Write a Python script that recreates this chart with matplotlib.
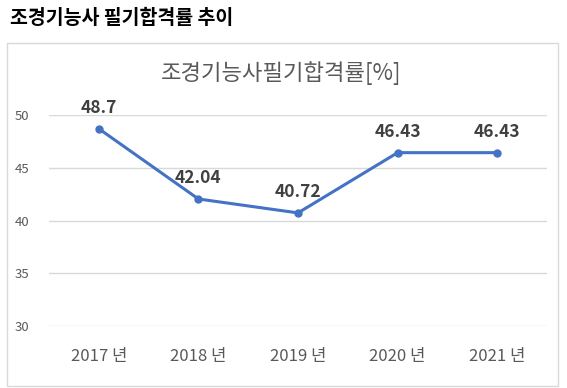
import matplotlib.pyplot as plt
from matplotlib.patches import Rectangle

plt.rcParams['font.family'] = ['Noto Sans CJK KR', 'DejaVu Sans']

# data
years = ['2017 년', '2018 년', '2019 년', '2020 년', '2021 년']
rates = [48.7, 42.04, 40.72, 46.43, 46.43]
y_ticks = [30, 35, 40, 45, 50]

fig = plt.figure(figsize=(5.67, 3.88), dpi=100)

# page header above the chart box
fig.text(10 / 567, 1 - 18 / 388, '조경기능사 필기합격률 추이', fontsize=14,
         fontweight='bold', color='black', va='center', ha='left')

# outer chart border
fig.patches.append(Rectangle((7 / 567, 2 / 388), 551 / 567, 343 / 388,
                             transform=fig.transFigure, fill=False,
                             edgecolor='#D9D9D9', linewidth=1))

ax = fig.add_axes([49 / 567, 62 / 388, 498 / 567, 211 / 388])
x = list(range(len(years)))
ax.plot(x, rates, color='#4472C4', linewidth=2.2, marker='o', markersize=5)

for xi, v in zip(x, rates):
    ax.annotate(f'{v:g}', (xi, v), xytext=(0, 15), textcoords='offset points',
                ha='center', va='center', fontsize=12.5, fontweight='bold',
                color='#404040')

ax.set_xlim(-0.5, len(years) - 0.5)
ax.set_ylim(30, 50)
ax.set_yticks(y_ticks)
ax.set_xticks(x)
ax.set_xticklabels(years)
ax.tick_params(axis='x', length=0, pad=16, labelsize=12, labelcolor='#595959')
ax.tick_params(axis='y', length=0, pad=14, labelsize=9.5, labelcolor='#595959')
ax.grid(axis='y', color='#D9D9D9', linewidth=1)
ax.set_axisbelow(True)
for s in ax.spines.values():
    s.set_visible(False)

fig.text(281 / 567, 1 - 73 / 388, '조경기능사필기합격률[%]', fontsize=16,
         color='#595959', ha='center', va='center')

fig.savefig('out.png', dpi=100)
